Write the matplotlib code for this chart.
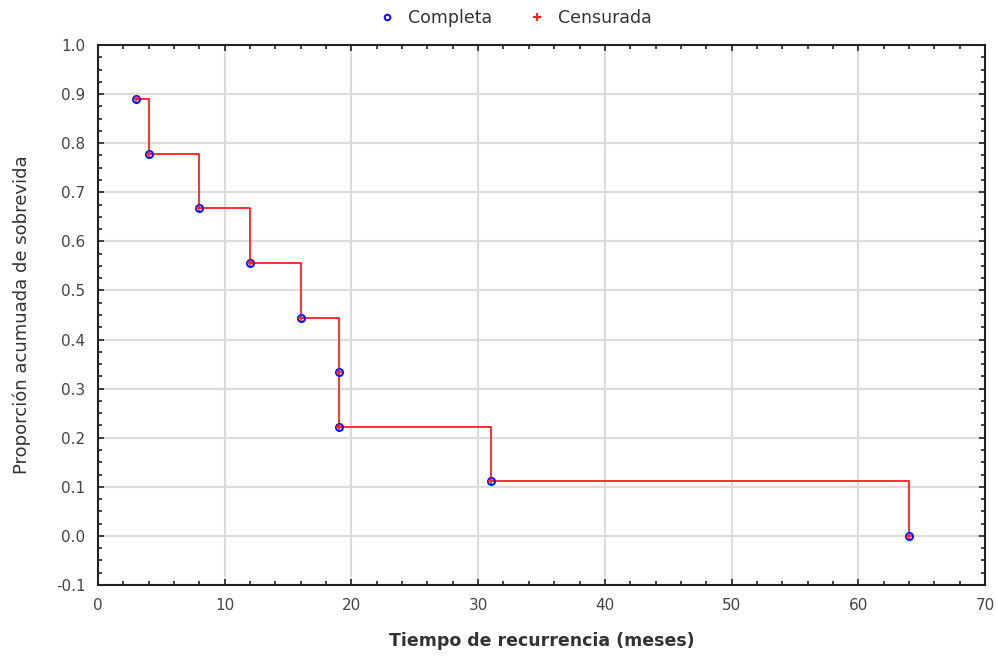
import matplotlib
matplotlib.use("Agg")
import matplotlib.pyplot as plt
from matplotlib.ticker import MultipleLocator
from matplotlib.lines import Line2D

tiempo = [3, 4, 8, 12, 16, 19, 19, 31, 64]
supervivencia = [0.889, 0.778, 0.667, 0.556, 0.444, 0.333, 0.222, 0.111, 0.0]

plt.rcParams['font.family'] = ['DejaVu Sans']
fig = plt.figure(figsize=(9.98, 6.56), dpi=100)
ax = fig.add_axes([98/998, 1-585/656, (985-98)/998, (585-45)/656])

ax.plot(tiempo, supervivencia, drawstyle='steps-post', color='#ff2020', lw=1.3, zorder=3)
ax.plot(tiempo, supervivencia, 'o', ms=5, mfc='none', mec='#1010ff', mew=1.5, zorder=4)
ax.plot(tiempo, supervivencia, '+', ms=4, color='#ff2020', mew=1.2, zorder=5)

ax.set_xlim(0, 70)
ax.set_ylim(-0.1, 1.0)
ax.xaxis.set_major_locator(MultipleLocator(10))
ax.xaxis.set_minor_locator(MultipleLocator(2))
ax.yaxis.set_major_locator(MultipleLocator(0.1))
ax.yaxis.set_minor_locator(MultipleLocator(0.025))
ax.yaxis.set_major_formatter(matplotlib.ticker.FormatStrFormatter('%.1f'))
ax.grid(True, which='major', color='#dcdcdc', lw=1.5, zorder=0)
ax.set_axisbelow(True)
for s in ax.spines.values():
    s.set_color('#222222')
    s.set_linewidth(1.5)
ax.tick_params(which='both', direction='in', top=True, right=True, colors='#222222')
ax.tick_params(which='major', length=4, width=1.2, labelsize=11, labelcolor='#444444', pad=9)
ax.tick_params(which='minor', length=3, width=1.2)

ax.set_xlabel('Tiempo de recurrencia (meses)', fontsize=12.5, fontweight='semibold', color='#333333', labelpad=14)
ax.set_ylabel('Proporción acumuada de sobrevida', fontsize=13, color='#333333', labelpad=18)

handles = [Line2D([], [], marker='o', ls='none', ms=4, mfc='none', mec='#1010ff', mew=1.5),
           Line2D([], [], marker='+', ls='none', ms=6, color='#ff2020', mew=1.5)]
fig.legend(handles, ['Completa', 'Censurada'], loc='center', bbox_to_anchor=(0.512, 1-18/656),
           ncol=2, frameon=False, fontsize=12.5, handletextpad=0.2, columnspacing=1.6,
           labelcolor='#333333')

fig.savefig('out.png', dpi=100)
